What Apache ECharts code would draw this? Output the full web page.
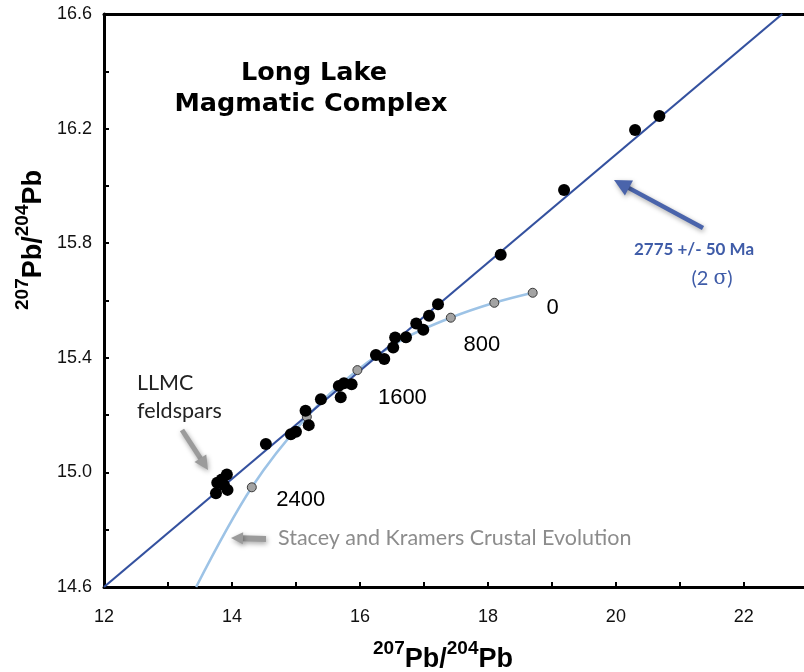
<!DOCTYPE html>
<html>
<head>
<meta charset="utf-8">
<script src="https://cdn.jsdelivr.net/npm/echarts@6/dist/echarts.min.js"></script>
<style>
html, body { margin: 0; padding: 0; background: #ffffff; }
#chart { width: 804px; height: 672px; }
</style>
</head>
<body>
<div id="chart"></div>
<script>
// Long Lake Magmatic Complex feldspar lead isotope analyses
const feldsparX = [20.68, 20.30, 19.19, 18.20, 17.22, 17.08, 16.88, 16.99, 16.72, 16.55,
                   16.52, 16.25, 16.38, 15.87, 15.75, 15.67, 15.70, 15.39, 15.15, 15.20,
                   15.00, 14.92, 14.53, 13.92, 13.84, 13.77, 13.93, 13.75, 13.875];
const feldsparY = [16.244, 16.195, 15.986, 15.760, 15.587, 15.547, 15.520, 15.498, 15.472, 15.471,
                   15.436, 15.410, 15.396, 15.308, 15.311, 15.302, 15.262, 15.255, 15.215, 15.165,
                   15.142, 15.133, 15.099, 14.993, 14.975, 14.964, 14.939, 14.927, 14.956];

// Stacey & Kramers crustal evolution curve, nodes every 400 Ma
const skAges = [0, 400, 800, 1200, 1600, 2000, 2400];
const skX = [18.70, 18.10, 17.42, 16.71, 15.96, 15.17, 14.31];
const skY = [15.627, 15.592, 15.540, 15.469, 15.357, 15.194, 14.948];
// where the curve leaves the plot at the lower edge
const skTailX = [13.44];
const skTailY = [14.60];
const skLabelledAges = [0, 800, 1600, 2400];

// 2775 Ma isochron through the feldspar array
const isoX = [12.0, 22.6];
const isoY = [14.6, 16.6];

// axis ranges and labelled ticks
const xRange = [12, 22.94];
const yRange = [14.6, 16.6];
const xTickLabels = [12, 14, 16, 18, 20, 22];
const yTickLabels = [14.6, 15.0, 15.4, 15.8, 16.2, 16.6];

// label offsets (px) for the age nodes
const nodeLabelOffset = { 0: [20, 15], 800: [31, 27], 1600: [45, 28], 2400: [49, 13] };

const chart = echarts.init(document.getElementById('chart'), null, { renderer: 'canvas' });

const axisFont = '"Liberation Sans", Arial, sans-serif';
const noteFont = 'Lato, "Open Sans", sans-serif';
const noteBlue = '#3f5ca8';

function isLabelled(list, v) {
  return list.some(t => Math.abs(t - v) < 1e-6);
}

function arrow(x1, y1, x2, y2, color, width, headLen, headHalf, shadow) {
  const dx = x2 - x1, dy = y2 - y1;
  const len = Math.sqrt(dx * dx + dy * dy);
  const ux = dx / len, uy = dy / len;
  const bx = x2 - ux * headLen, by = y2 - uy * headLen;
  const nx = -uy, ny = ux;
  const shadowStyle = shadow ? { shadowBlur: 5, shadowColor: 'rgba(0,0,0,0.35)', shadowOffsetX: 1, shadowOffsetY: 2 } : {};
  return {
    type: 'group',
    children: [
      {
        type: 'line',
        shape: { x1: x1, y1: y1, x2: bx + ux * 2, y2: by + uy * 2 },
        style: Object.assign({ stroke: color, lineWidth: width, lineCap: 'butt' }, shadowStyle)
      },
      {
        type: 'polygon',
        shape: { points: [[x2, y2], [bx + nx * headHalf, by + ny * headHalf], [bx - nx * headHalf, by - ny * headHalf]] },
        style: Object.assign({ fill: color }, shadowStyle)
      }
    ]
  };
}

const feldsparData = feldsparX.map((x, i) => [x, feldsparY[i]]);
const skLine = skX.map((x, i) => [x, skY[i]]).concat(skTailX.map((x, i) => [x, skTailY[i]]));
const skNodes = skAges.map((age, i) => {
  const labelled = skLabelledAges.indexOf(age) >= 0;
  return {
    value: [skX[i], skY[i]],
    label: labelled ? { show: true, formatter: String(age), offset: nodeLabelOffset[age] } : { show: false }
  };
});
const isoLine = isoX.map((x, i) => [x, isoY[i]]);

const supRich = {
  sup: { fontFamily: axisFont, fontWeight: 'bold', fontSize: 19, fill: '#000', verticalAlign: 'top', lineHeight: 34 },
  pb: { fontFamily: axisFont, fontWeight: 'bold', fontSize: 27, fill: '#000', verticalAlign: 'bottom', lineHeight: 34 }
};
const isoTitle = '{sup|207}{pb|Pb/}{sup|204}{pb|Pb}';

const option = {
  animation: false,
  backgroundColor: '#ffffff',
  grid: { left: 104, top: 14, width: 700, height: 573, containLabel: false },
  xAxis: [
    {
      type: 'value', min: xRange[0], max: xRange[1], interval: 1,
      axisLine: { show: true, onZero: false, lineStyle: { color: '#000', width: 3 } },
      axisTick: { show: true, inside: true, length: 5, lineStyle: { color: '#000', width: 2 } },
      axisLabel: {
        margin: 21, fontFamily: axisFont, fontSize: 18, color: '#111',
        showMaxLabel: false,
        formatter: v => isLabelled(xTickLabels, v) ? String(v) : ''
      },
      splitLine: { show: false }
    },
    {
      type: 'value', position: 'top', min: xRange[0], max: xRange[1],
      axisLine: { show: true, onZero: false, lineStyle: { color: '#000', width: 3 } },
      axisTick: { show: false }, axisLabel: { show: false }, splitLine: { show: false }
    }
  ],
  yAxis: {
    type: 'value', min: yRange[0], max: yRange[1], interval: 0.2,
    axisLine: { show: true, onZero: false, lineStyle: { color: '#000', width: 3 } },
    axisTick: { show: true, inside: true, length: 5, lineStyle: { color: '#000', width: 2 } },
    axisLabel: {
      margin: 12, fontFamily: axisFont, fontSize: 18, color: '#111',
      formatter: v => isLabelled(yTickLabels, v) ? v.toFixed(1) : ''
    },
    splitLine: { show: false }
  },
  series: [
    {
      name: 'Stacey and Kramers',
      type: 'line', data: skLine, smooth: 0.35, showSymbol: false, clip: true,
      lineStyle: { color: '#9dc3e6', width: 2.5 }, z: 2, silent: true
    },
    {
      name: 'Isochron',
      type: 'line', data: isoLine, showSymbol: false, clip: true,
      lineStyle: { color: '#34519f', width: 2.2 }, z: 3, silent: true
    },
    {
      name: 'Age nodes',
      type: 'scatter', data: skNodes, symbolSize: 9,
      itemStyle: { color: '#a3a3a3', borderColor: '#3a3a3a', borderWidth: 1, opacity: 1 },
      label: { position: 'inside', fontFamily: axisFont, fontSize: 22, color: '#000' },
      z: 4
    },
    {
      name: 'LLMC feldspars',
      type: 'scatter', data: feldsparData, symbolSize: 12,
      itemStyle: { color: '#000', opacity: 1 }, z: 5
    }
  ],
  graphic: [
    { type: 'text', x: 314, y: 73, style: { text: 'Long Lake', font: 'bold 25.5px "DejaVu Sans", Verdana, sans-serif', fill: '#000', align: 'center', verticalAlign: 'middle' } },
    { type: 'text', x: 311, y: 104, style: { text: 'Magmatic Complex', font: 'bold 25.5px "DejaVu Sans", Verdana, sans-serif', fill: '#000', align: 'center', verticalAlign: 'middle' } },

    { type: 'text', x: 137, y: 383, style: { text: 'LLMC', font: '21.5px ' + noteFont, fill: '#222', align: 'left', verticalAlign: 'middle' } },
    { type: 'text', x: 137, y: 411, style: { text: 'feldspars', font: '21.5px ' + noteFont, fill: '#222', align: 'left', verticalAlign: 'middle' } },
    { type: 'text', x: 278, y: 538, style: { text: 'Stacey and Kramers Crustal Evolution', font: '21.5px ' + noteFont, fill: '#8c8c8c', align: 'left', verticalAlign: 'middle' } },

    { type: 'text', x: 694, y: 250, style: { text: '2775 +/- 50 Ma', font: 'bold 17px ' + noteFont, fill: noteBlue, align: 'center', verticalAlign: 'middle' } },
    {
      type: 'text', x: 712, y: 279,
      style: {
        text: '{a|(2 }{s|σ}{a|)}', align: 'center', verticalAlign: 'middle', fill: noteBlue,
        rich: {
          a: { fontFamily: noteFont, fontSize: 20, fill: noteBlue },
          s: { fontFamily: '"DejaVu Serif", "Liberation Serif", serif', fontSize: 20, fill: noteBlue }
        }
      }
    },

    arrow(703, 228, 614, 180, '#4a64ab', 4.5, 17, 8.5, true),
    arrow(182, 430, 208, 470, '#9b9b9b', 5, 14, 7, true),
    arrow(266, 539, 231, 538, '#9b9b9b', 6, 12, 6, true),

    {
      type: 'text', x: 30, y: 240, rotation: Math.PI / 2,
      style: { text: isoTitle, align: 'center', verticalAlign: 'middle', rich: supRich }
    },
    {
      type: 'text', x: 443, y: 656,
      style: { text: isoTitle, align: 'center', verticalAlign: 'middle', rich: supRich }
    }
  ]
};

chart.setOption(option);
</script>
</body>
</html>
